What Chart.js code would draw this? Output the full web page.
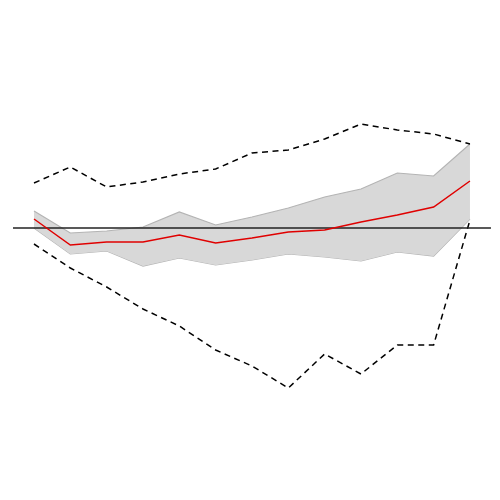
<!DOCTYPE html>
<html>
<head>
<meta charset="utf-8">
<script src="https://cdn.jsdelivr.net/npm/chart.js@4/dist/chart.umd.min.js"></script>
<style>
html,body{margin:0;padding:0;background:#fff;}
#wrap{width:500px;height:500px;position:relative;}
</style>
</head>
<body>
<div id="wrap"><canvas id="c"></canvas></div>
<script>
const periods = [0,1,2,3,4,5,6,7,8,9,10,11,12];
const estimate   = [0.09,-0.17,-0.14,-0.14,-0.07,-0.15,-0.10,-0.04,-0.02,0.06,0.13,0.21,0.47];
const bandUpper  = [0.17,-0.05,-0.03,0.01,0.16,0.03,0.11,0.20,0.31,0.39,0.55,0.52,0.84];
const bandLower  = [0.00,-0.26,-0.23,-0.38,-0.30,-0.37,-0.32,-0.26,-0.29,-0.33,-0.24,-0.28,0.09];
const dashUpper  = [0.45,0.61,0.41,0.46,0.54,0.59,0.75,0.78,0.89,1.04,0.98,0.94,0.84];
const dashLower  = [-0.16,-0.40,-0.59,-0.81,-0.98,-1.22,-1.38,-1.60,-1.26,-1.46,-1.17,-1.17,0.08];
const zeroSpan   = [-0.578,12.578];

const pts = arr => periods.map((p,i)=>({x:p,y:arr[i]}));

new Chart(document.getElementById('c'), {
  type: 'line',
  data: {
    datasets: [
      {data: pts(bandUpper), borderColor:'#b4b4b4', borderWidth:1.2, backgroundColor:'#d8d8d8', fill:'+1', pointRadius:0, tension:0, order:4},
      {data: pts(bandLower), borderColor:'#b4b4b4', borderWidth:1.2, fill:false, pointRadius:0, tension:0, order:4},
      {data: pts(dashUpper), borderColor:'#000', borderWidth:1.5, borderDash:[6,4.5], fill:false, pointRadius:0, tension:0, order:2},
      {data: pts(dashLower), borderColor:'#000', borderWidth:1.5, borderDash:[6,4.5], fill:false, pointRadius:0, tension:0, order:2},
      {data: zeroSpan.map(x=>({x:x,y:0})), borderColor:'#222', borderWidth:1.6, fill:false, pointRadius:0, order:1},
      {data: pts(estimate), borderColor:'#e00000', borderWidth:1.5, fill:false, pointRadius:0, tension:0, order:0}
    ]
  },
  options: {
    responsive:true, maintainAspectRatio:false, animation:false,
    layout:{padding:0},
    plugins:{legend:{display:false}, tooltip:{enabled:false}},
    scales:{
      x:{type:'linear', display:false, min:-0.936, max:12.827},
      y:{type:'linear', display:false, min:-2.72, max:2.28}
    }
  }
});
</script>
</body>
</html>
